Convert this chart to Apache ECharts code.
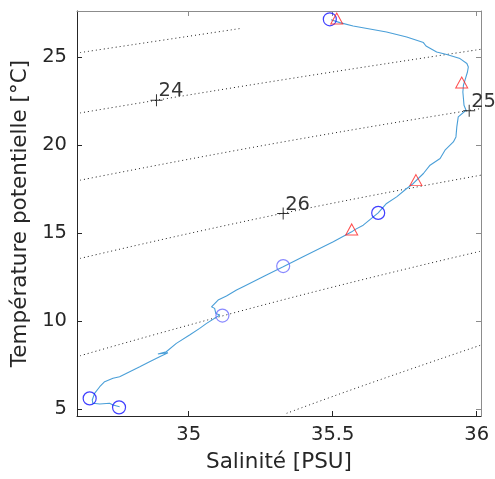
<!DOCTYPE html>
<html><head><meta charset="utf-8">
<script src="https://cdn.jsdelivr.net/npm/echarts@6/dist/echarts.min.js"></script>
<style>html,body{margin:0;padding:0;background:#fff}#c{width:495px;height:479px}</style>
</head><body><div id="c"></div>
<script>
// Tick labels
const salinityTicks = [35, 35.5, 36];
const temperatureTicks = [5, 10, 15, 20, 25];

// Profile (salinity, potential temperature), surface to depth
const profileS = [35.494,35.525,35.571,35.687,35.757,35.815,35.824,35.861,35.896,35.942,35.966,35.971,35.968,35.961,35.954,35.952,35.954,35.956,35.963,35.936,35.931,35.928,35.919,35.890,35.873,35.838,35.815,35.780,35.757,35.722,35.687,35.658,35.606,35.577,35.566,35.502,35.397,35.328,35.270,35.189,35.166,35.131,35.102,35.079,35.090,35.094,35.108,35.062,35.038,35.003,34.957,34.922,34.893,34.928,34.899,34.864,34.830,34.795,34.760,34.737,34.708,34.691,34.673,34.665,34.667,34.691,34.725,34.737,34.760];
const profileT = [27.110,26.951,26.758,26.418,26.134,25.817,25.624,25.284,25.136,24.909,24.626,24.433,24.149,23.775,23.395,23.015,22.640,22.260,21.977,21.597,21.030,20.462,20.179,19.708,19.237,18.857,18.386,17.819,17.535,17.059,16.685,16.151,15.454,15.199,15.074,14.507,13.656,13.088,12.618,11.954,11.767,11.427,11.200,10.820,10.729,10.445,10.349,9.878,9.594,9.214,8.744,8.267,8.137,8.210,7.984,7.700,7.417,7.133,6.849,6.758,6.565,6.282,5.908,5.528,5.340,5.301,5.340,5.244,5.148];

// Blue circle markers
const circleDeepS = [35.490, 35.658, 34.656, 34.758];
const circleDeepT = [27.14, 16.15, 5.62, 5.11];
const circlePaleS = [35.328, 35.117];
const circlePaleT = [13.13, 10.32];

// Red triangle markers
const triangleS = [35.514, 35.948, 35.789, 35.566];
const triangleT = [27.18, 23.55, 18.01, 15.21];

// Isopycnals (sigma-theta)
const sigmaLevels = [23, 24, 25, 26, 27, 28];
const isoS = [
  [34.623, 35.177],
  [34.623, 35.316, 36.015],
  [34.623, 35.316, 36.015],
  [34.623, 35.316, 36.015],
  [34.623, 35.316, 36.015],
  [35.340, 35.595, 36.015]
];
const isoT = [
  [25.250, 26.611],
  [21.824, 23.678, 25.437],
  [18.006, 20.145, 22.073],
  [13.565, 16.089, 18.290],
  [8.040, 11.166, 13.979],
  [4.773, 6.282, 8.647]
];

// Contour labels
const labelTexts = ['24', '25', '26'];
const labelS = [34.888, 35.974, 35.328];
const labelT = [22.544, 21.950, 16.117];

const zip = (a, b) => a.map((v, i) => [v, b[i]]);
const FONT = 'DejaVu Sans';
const DARK = '#262626';
const GRAY = '#8c8c8c';

const series = [];
sigmaLevels.forEach((lv, k) => {
  series.push({
    type: 'line', name: 'sigma' + lv, data: zip(isoS[k], isoT[k]),
    smooth: true, showSymbol: false, symbol: 'none', silent: true, z: 1,
    lineStyle: { color: '#222', width: 1, type: [1, 3] }
  });
});
series.push({
  type: 'line', data: zip(profileS, profileT), showSymbol: false, symbol: 'none', z: 3,
  lineStyle: { color: '#4a9fd8', width: 1.1 }
});
series.push({
  type: 'scatter', data: zip(circleDeepS, circleDeepT), symbol: 'circle', symbolSize: 13, z: 4,
  itemStyle: { color: 'rgba(0,0,0,0)', borderColor: '#1010ff', borderWidth: 1.2 }
});
series.push({
  type: 'scatter', data: zip(circlePaleS, circlePaleT), symbol: 'circle', symbolSize: 13, z: 4,
  itemStyle: { color: 'rgba(0,0,0,0)', borderColor: '#6b6bff', borderWidth: 1.2 }
});
series.push({
  type: 'scatter', data: zip(triangleS, triangleT), symbol: 'triangle', symbolSize: [12, 11], z: 4,
  itemStyle: { color: 'rgba(0,0,0,0)', borderColor: '#ff2020', borderWidth: 1 }
});
series.push({
  type: 'scatter', data: zip(labelS, labelT),
  symbol: 'path://M0,5.5h12v1h-12z M5.5,0h1v12h-1z', symbolSize: 12, z: 5,
  itemStyle: { color: '#000' },
  label: {
    show: true, position: [8, 7], align: 'left', verticalAlign: 'bottom',
    formatter: p => labelTexts[p.dataIndex], fontSize: 19.5, fontFamily: FONT, color: '#000'
  }
});

const chart = echarts.init(document.getElementById('c'), null, { renderer: 'canvas' });
chart.setOption({
  animation: false,
  backgroundColor: '#fff',
  grid: { left: 77, right: 14, top: 11, bottom: 63, containLabel: false },
  xAxis: [{
    type: 'value', position: 'bottom', min: 34.612, max: 36.015,
    axisLine: { show: true, lineStyle: { color: DARK, width: 1 } },
    axisTick: { show: true, inside: true, length: 5, customValues: salinityTicks, lineStyle: { color: DARK } },
    axisLabel: { customValues: salinityTicks, fontSize: 19.5, fontFamily: FONT, color: DARK, margin: 9 },
    splitLine: { show: false },
    name: 'Salinité [PSU]', nameLocation: 'middle', nameGap: 35,
    nameTextStyle: { fontSize: 21.5, fontFamily: FONT, color: DARK }
  }, {
    type: 'value', position: 'top', min: 34.612, max: 36.015,
    axisLine: { show: true, lineStyle: { color: GRAY, width: 1 } },
    axisTick: { show: true, inside: true, length: 5, customValues: salinityTicks, lineStyle: { color: GRAY } },
    axisLabel: { show: false }, splitLine: { show: false }
  }],
  yAxis: [{
    type: 'value', position: 'left', min: 4.62, max: 27.61,
    axisLine: { show: true, lineStyle: { color: DARK, width: 1 } },
    axisTick: { show: true, inside: true, length: 5, customValues: temperatureTicks, lineStyle: { color: DARK } },
    axisLabel: { customValues: temperatureTicks, fontSize: 19.5, fontFamily: FONT, color: DARK, margin: 10 },
    splitLine: { show: false },
    name: 'Température potentielle [°C]', nameLocation: 'middle', nameGap: 43, nameRotate: 90,
    nameTextStyle: { fontSize: 21.5, fontFamily: FONT, color: DARK }
  }, {
    type: 'value', position: 'right', min: 4.62, max: 27.61,
    axisLine: { show: true, lineStyle: { color: GRAY, width: 1 } },
    axisTick: { show: true, inside: true, length: 5, customValues: temperatureTicks, lineStyle: { color: GRAY } },
    axisLabel: { show: false }, splitLine: { show: false }
  }],
  series: series
});
</script></body></html>
